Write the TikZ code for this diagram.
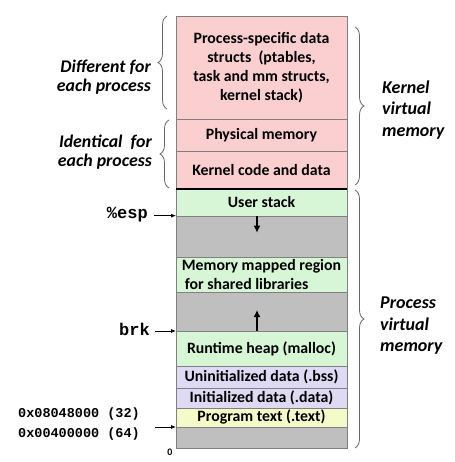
\documentclass[tikz,border=0pt]{standalone}
\usepackage{fontspec}
\setmainfont{Carlito}
\setmonofont{Liberation Mono}
\usetikzlibrary{arrows.meta,decorations.pathreplacing}
\definecolor{kernpink}{RGB}{251,206,208}
\definecolor{usergreen}{RGB}{214,246,214}
\definecolor{gapgray}{RGB}{191,191,191}
\definecolor{datalav}{RGB}{222,218,244}
\definecolor{textyel}{RGB}{244,251,200}
\tikzset{
  region/.style={draw=black!50, minimum width=171, inner sep=0, outer sep=0, anchor=north, align=center,
    font=\fontsize{15.8}{19}\selectfont\bfseries},
  sidelabel/.style={inner sep=0, align=left, font=\fontsize{17.8}{19}\selectfont\bfseries\itshape},
  vmlabel/.style={inner sep=0, align=left, font=\fontsize{18}{21.5}\selectfont\bfseries\itshape},
  reglabel/.style={anchor=east, inner sep=0, font=\fontsize{17}{19}\selectfont\ttfamily\bfseries},
  addrlabel/.style={anchor=west, inner sep=0, font=\fontsize{13.5}{16}\selectfont\ttfamily\bfseries},
  sidebrace/.style={draw=black!60, line width=0.8, decorate, decoration={brace, amplitude=9}},
  ptrarrow/.style={-{Latex[length=5,width=4]}, line width=0.8},
  growarrow/.style={-{Latex[length=7,width=7]}, line width=1.6}
}
\begin{document}
\begin{tikzpicture}[x=1pt,y=-1pt]
\useasboundingbox (0,0) rectangle (454,462);

\node[region, fill=kernpink, minimum height=103.5] (pdata) at (261.5,16) {Process-specific data\\structs~~(ptables,\\task and mm structs,\\kernel stack)};
\node[region, fill=kernpink, minimum height=31.5] (physmem) at (pdata.south) {Physical memory};
\node[region, fill=kernpink, minimum height=38] (kcode) at (physmem.south) {Kernel code and data};
\node[region, fill=usergreen, minimum height=26.7] (ustack) at (kcode.south) {User stack};
\node[region, fill=gapgray, minimum height=41] (gap1) at (ustack.south) {};
\node[region, fill=usergreen, minimum height=35.3, align=left] (mmap) at (gap1.south) {Memory mapped region\\\hspace{3pt}for shared libraries};
\node[region, fill=gapgray, minimum height=39] (gap2) at (mmap.south) {};
\node[region, fill=usergreen, minimum height=35] (heap) at (gap2.south) {Runtime heap (malloc)};
\node[region, fill=datalav, minimum height=21.7] (bss) at (heap.south) {Uninitialized data (.bss)};
\node[region, fill=datalav, minimum height=20] (data) at (bss.south) {Initialized data (.data)};
\node[region, fill=textyel, minimum height=19.3] (text) at (data.south) {Program text (.text)};
\node[region, fill=gapgray, minimum height=21] (gap3) at (text.south) {};
\draw[line width=2] ([xshift=-85.5]kcode.south) -- ([xshift=85.5]kcode.south);

\draw[growarrow] ([xshift=-4.5]gap1.north) -- ([xshift=-4.5,yshift=-17]gap1.north);
\draw[growarrow] ([xshift=-4.5]gap2.south) -- ([xshift=-4.5,yshift=21]gap2.south);

\coordinate (esptail) at ([xshift=-107.5]ustack.south);
\node[reglabel] (esp) at ([xshift=-6,yshift=1]esptail) {\%esp};
\draw[ptrarrow] (esptail) -- ([xshift=-85.5]ustack.south);
\coordinate (brktail) at ([xshift=-106.5]heap.north);
\node[reglabel] (brk) at ([xshift=-5,yshift=2]brktail) {brk};
\draw[ptrarrow] (brktail) -- ([xshift=-85.5]heap.north);
\coordinate (addrtail) at ([xshift=-106.5]text.south);
\node[addrlabel] (addr32) at ([xshift=-137,yshift=13]addrtail) {0x08048000 (32)};
\node[addrlabel] (addr64) at ([xshift=-137,yshift=-7]addrtail) {0x00400000 (64)};
\draw[ptrarrow] (addrtail) -- ([xshift=-85.5]text.south);
\node[inner sep=0, font=\fontsize{10}{12}\selectfont\bfseries] (zero) at (170,452) {0};

\draw[sidebrace] (167,109) -- (167,16);
\draw[sidebrace] (169,188) -- (169,120);
\draw[sidebrace] (355,27) -- (355,185);
\draw[sidebrace] (355,190) -- (355,448);

\node[sidelabel, anchor=east, align=right] (diff) at (151,77.5) {Different for\\each process};
\node[sidelabel, anchor=east, align=right] (ident) at (152,152.5) {Identical~~for\\each process};
\node[vmlabel, anchor=west] (kvm) at (382,110) {Kernel\\virtual\\memory};
\node[vmlabel, anchor=west] (pvm) at (380,326) {Process\\virtual\\memory};
\end{tikzpicture}
\end{document}
